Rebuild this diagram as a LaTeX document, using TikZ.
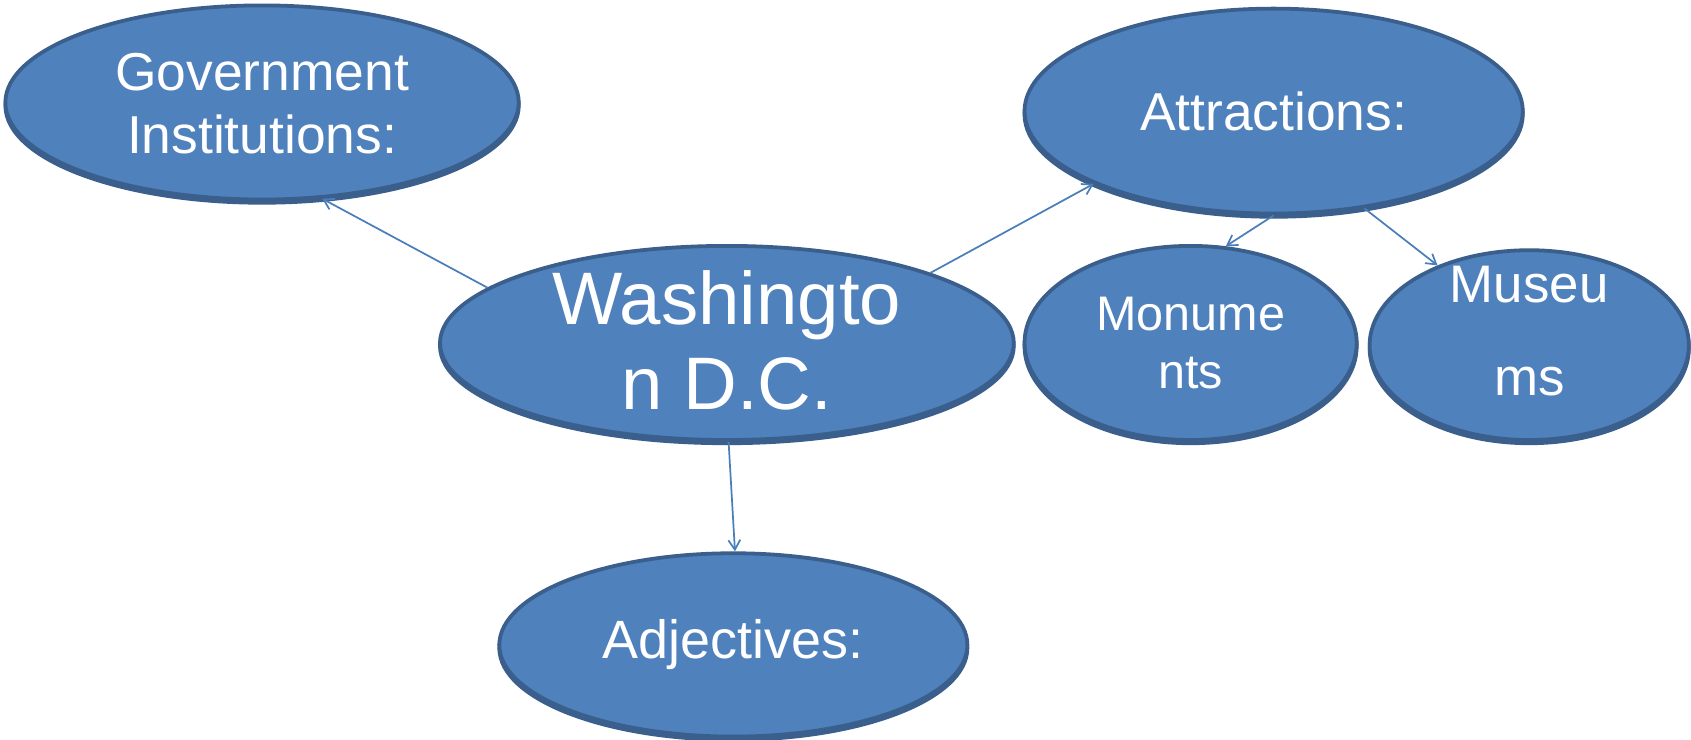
\documentclass[tikz,border=0pt]{standalone}
\usepackage{fontspec}
\setmainfont{Liberation Sans}
\usetikzlibrary{shapes.geometric,arrows.meta}
\definecolor{bubble}{HTML}{4F81BD}
\definecolor{rim}{HTML}{3A5F8C}
\definecolor{link}{HTML}{4A7EBB}
\tikzset{
  bub/.style={ellipse, fill=bubble, draw=rim, line width=3.5pt, inner sep=0pt},
  shade/.style={ellipse, fill=rim, draw=rim, line width=3.5pt, inner sep=0pt},
  txt/.style={text=white, align=center, inner sep=0pt},
  conn/.style={draw=link, line width=1.6pt, -{Straight Barb[length=9pt,width=11pt,line width=1.6pt]}}
}
\newcommand{\fs}[2]{\fontsize{#1}{#2}\selectfont}
\begin{document}
\begin{tikzpicture}[x=1pt,y=-1pt]
\useasboundingbox (0,0) rectangle (1568,686);
\fill[white] (0,0) rectangle (1568,686);
% shadows
\node[shade, minimum width=476pt, minimum height=180pt] at (243,98) {};
\node[shade, minimum width=462pt, minimum height=190pt] at (1181,106) {};
\node[shade, minimum width=532pt, minimum height=180pt] at (674,321) {};
\node[shade, minimum width=308pt, minimum height=180pt] at (1104,321) {};
\node[shade, minimum width=296pt, minimum height=176pt] at (1418,323) {};
\node[shade, minimum width=434pt, minimum height=170pt] at (680,601) {};
% bubbles
\node[bub, minimum width=476pt, minimum height=180pt] (gov) at (243,95) {};
\node[bub, minimum width=462pt, minimum height=190pt] (attr) at (1181,103) {};
\node[bub, minimum width=532pt, minimum height=180pt] (wash) at (674,318) {};
\node[bub, minimum width=308pt, minimum height=180pt] (monu) at (1104,318) {};
\node[bub, minimum width=296pt, minimum height=176pt] (muse) at (1418,320) {};
\node[bub, minimum width=434pt, minimum height=170pt] (adj) at (680,598) {};
% texts
\node[txt, font=\fs{49.5}{58}] (govt) at (243,96) {Government\\Institutions:};
\node[txt, font=\fs{49.5}{58}] (attrt) at (1181,103) {Attractions:};
\node[txt, font=\fs{69}{79}] (washt) at (674,316) {Washingto\\n D.C.};
\node[txt, font=\fs{45}{54}] (monut) at (1104,318) {Monume\\nts};
\node[txt, font=\fs{49}{86}] (muset) at (1418,307) {Museu\\ms};
\node[txt, font=\fs{50}{58}] (adjt) at (680,598) {Adjectives:};
% connectors
\draw[conn] (wash.167.5) -- (gov.-58.5);
\draw[conn] (wash.19) -- (attr.202);
\draw[conn] (attr.-90.6) -- (monu.70.6);
\draw[conn] (attr.-47.4) -- (muse.139.4);
\draw[conn] (wash.-89.4) -- (adj.89.4);
\end{tikzpicture}
\end{document}
